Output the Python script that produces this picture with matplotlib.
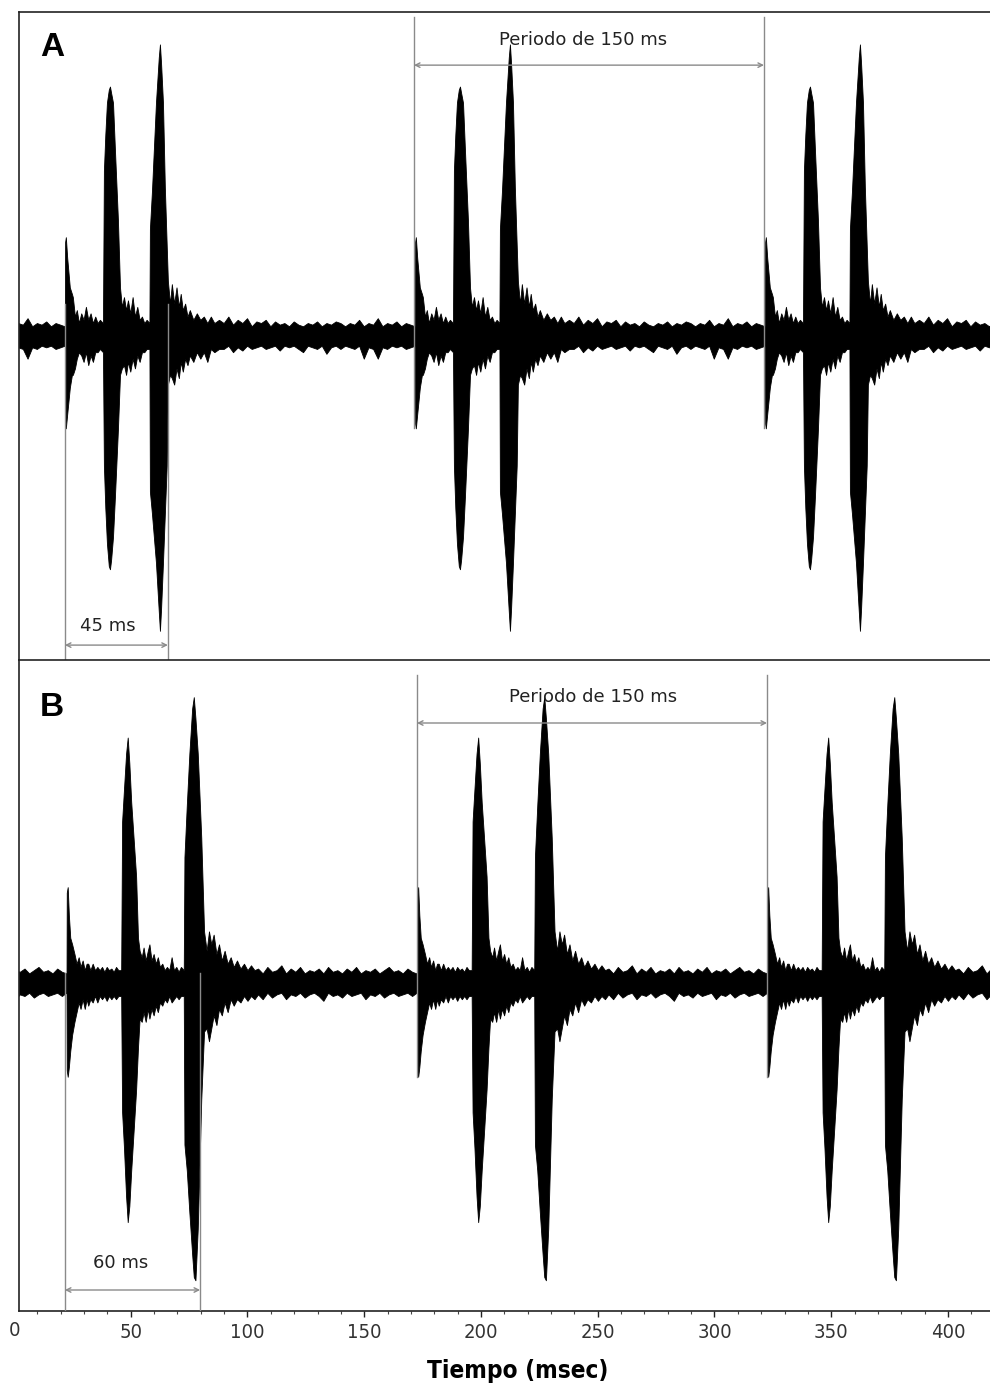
import matplotlib.pyplot as plt
import numpy as np

# envelope of one 150 ms period, time in ms after the onset of the first pulse
# amplitudes are relative (1.0 = top of the panel)

# panel A: 45 ms between first and third pulse
a_t = [0.0, 0.1, 0.4, 1.0, 2.1, 3.0, 3.4, 4.3, 5.1, 6.0, 7.0, 8.0, 9.0, 10.0, 11.0, 12.0, 13.0, 14.0, 15.0, 16.3,
       16.7, 17.3, 18.0, 18.8, 19.3, 19.8, 20.6, 21.4, 22.7, 23.6, 24.4,
       25.3, 26.2, 27.0, 28.0, 29.0, 30.0, 31.0, 32.0, 33.0, 34.0, 35.0, 36.2,
       36.4, 37.3, 39.0, 40.2, 40.7, 41.2, 42.0, 42.8, 43.6, 44.1, 45.0,
       45.8, 46.8, 47.8, 48.8, 49.6, 50.5, 51.5, 52.5, 53.5, 55.0, 56.5, 58.0, 59.5, 61.0, 62.5, 64.0, 66.0,
       68, 70, 72, 74, 76, 78, 80, 82, 84, 86,
       88, 90, 92, 94, 96, 98, 100, 102, 104, 106,
       108, 110, 112, 114, 116, 118, 120, 122, 124, 126,
       128, 130, 132, 134, 136, 138, 140, 142, 144, 146,
       148, 149.9]
a_up = [0.03, 0.29, 0.305, 0.24, 0.15, 0.13, 0.12, 0.06, 0.08, 0.04, 0.07, 0.05, 0.09, 0.05, 0.07, 0.04, 0.06, 0.04, 0.05, 0.04,
        0.51, 0.62, 0.72, 0.76, 0.77, 0.75, 0.72, 0.58, 0.36, 0.15, 0.09,
        0.12, 0.08, 0.11, 0.07, 0.12, 0.06, 0.09, 0.05, 0.06, 0.04, 0.05, 0.04,
        0.33, 0.45, 0.72, 0.86, 0.90, 0.84, 0.72, 0.46, 0.28, 0.17, 0.10,
        0.16, 0.10, 0.15, 0.09, 0.13, 0.08, 0.10, 0.06, 0.08, 0.05, 0.07, 0.05, 0.06, 0.04, 0.06, 0.04, 0.05,
        0.04, 0.06, 0.035, 0.05, 0.04, 0.055, 0.03, 0.045, 0.04, 0.05,
        0.03, 0.045, 0.035, 0.04, 0.03, 0.045, 0.035, 0.03, 0.04, 0.035,
        0.045, 0.03, 0.04, 0.035, 0.045, 0.04, 0.03, 0.04, 0.035, 0.05,
        0.03, 0.04, 0.035, 0.055, 0.03, 0.04, 0.035, 0.045, 0.03, 0.04,
        0.035, 0.03]
a_lo = [-0.03, -0.27, -0.285, -0.24, -0.16, -0.12, -0.12, -0.10, -0.07, -0.05, -0.06, -0.08, -0.05, -0.09, -0.06, -0.08, -0.05, -0.05, -0.04, -0.05,
        -0.40, -0.53, -0.64, -0.71, -0.72, -0.69, -0.62, -0.50, -0.29, -0.12, -0.10,
        -0.09, -0.12, -0.08, -0.11, -0.07, -0.10, -0.06, -0.08, -0.05, -0.05, -0.04, -0.04,
        -0.48, -0.55, -0.70, -0.85, -0.91, -0.84, -0.70, -0.55, -0.40, -0.15, -0.12,
        -0.13, -0.15, -0.10, -0.13, -0.08, -0.11, -0.07, -0.09, -0.06, -0.08, -0.05, -0.07, -0.05, -0.08, -0.04, -0.05, -0.04,
        -0.04, -0.03, -0.05, -0.035, -0.045, -0.03, -0.04, -0.035, -0.03, -0.04,
        -0.035, -0.03, -0.045, -0.03, -0.035, -0.03, -0.04, -0.05, -0.03, -0.035,
        -0.04, -0.03, -0.055, -0.035, -0.03, -0.04, -0.03, -0.035, -0.04, -0.03,
        -0.07, -0.035, -0.04, -0.07, -0.035, -0.04, -0.03, -0.035, -0.03, -0.04,
        -0.035, -0.03]
a_onsets = [-128.2, 21.8, 171.7, 321.6]

# panel B: 60 ms between first and third pulse
b_t = [0.0, 0.1, 0.5, 1.0, 1.6, 2.4, 3.4, 4.3, 5.2, 6.0, 6.9, 7.8, 8.6, 9.3, 10.2, 11.2, 12.2, 13.2, 14.2, 15.2,
       16.2, 17.2, 18.2, 19.2, 20.2, 21.2, 22.2, 23.4,
       23.8, 24.6, 25.5, 26.2, 26.9, 27.7, 28.8, 29.8, 30.6, 31.3,
       32.2, 33.0, 33.9, 34.8, 35.5, 36.4, 37.3, 38.2, 39.1, 40.0, 41.0, 42.0, 43.0, 44.0, 45.0, 46.0, 47.0, 48.0, 49.0, 50.2,
       50.5, 51.5, 52.6, 53.8, 54.5, 55.2, 56.2, 57.7, 58.9, 60.0,
       61.0, 62.0, 63.0, 64.2, 65.3, 66.5, 67.7, 69.0, 70.3, 71.6, 73.0, 74.5, 76.0, 77.5, 79.0, 80.5,
       82, 84, 86, 88, 90, 92, 94, 96, 98, 100,
       102, 104, 106, 108, 110, 112, 114, 116, 118, 120,
       122, 124, 126, 128, 130, 132, 134, 136, 138, 140,
       142, 144, 146, 148, 149.9]
b_up = [0.03, 0.28, 0.297, 0.21, 0.14, 0.12, 0.09, 0.06, 0.08, 0.05, 0.07, 0.04, 0.06, 0.06, 0.04, 0.06, 0.04, 0.05, 0.04, 0.05,
        0.035, 0.05, 0.04, 0.045, 0.035, 0.05, 0.04, 0.04,
        0.50, 0.60, 0.71, 0.76, 0.68, 0.56, 0.44, 0.33, 0.14, 0.10,
        0.08, 0.11, 0.07, 0.10, 0.12, 0.07, 0.09, 0.06, 0.08, 0.05, 0.06, 0.04, 0.05, 0.04, 0.08, 0.04, 0.05, 0.035, 0.05, 0.04,
        0.39, 0.55, 0.71, 0.85, 0.885, 0.82, 0.71, 0.45, 0.16, 0.10,
        0.16, 0.12, 0.15, 0.09, 0.12, 0.07, 0.10, 0.06, 0.08, 0.05, 0.07, 0.045, 0.06, 0.04, 0.055, 0.04,
        0.045, 0.03, 0.05, 0.035, 0.04, 0.055, 0.03, 0.045, 0.035, 0.05,
        0.03, 0.04, 0.035, 0.045, 0.03, 0.05, 0.035, 0.04, 0.03, 0.045,
        0.035, 0.05, 0.03, 0.04, 0.035, 0.045, 0.03, 0.04, 0.05, 0.035,
        0.04, 0.03, 0.045, 0.035, 0.03]
b_lo = [-0.03, -0.27, -0.29, -0.26, -0.21, -0.16, -0.12, -0.09, -0.06, -0.08, -0.05, -0.08, -0.05, -0.07, -0.05, -0.06, -0.04, -0.06, -0.04, -0.05,
        -0.04, -0.055, -0.04, -0.05, -0.04, -0.05, -0.04, -0.04,
        -0.40, -0.51, -0.66, -0.74, -0.69, -0.58, -0.45, -0.33, -0.20, -0.11,
        -0.12, -0.09, -0.12, -0.08, -0.11, -0.08, -0.10, -0.07, -0.09, -0.06, -0.07, -0.05, -0.06, -0.04, -0.06, -0.05, -0.04, -0.05, -0.04, -0.04,
        -0.50, -0.58, -0.71, -0.84, -0.91, -0.92, -0.76, -0.36, -0.15, -0.14,
        -0.18, -0.14, -0.10, -0.13, -0.08, -0.10, -0.06, -0.09, -0.05, -0.07, -0.05, -0.06, -0.04, -0.055, -0.04, -0.05,
        -0.035, -0.05, -0.03, -0.045, -0.035, -0.03, -0.05, -0.035, -0.04, -0.03,
        -0.045, -0.035, -0.03, -0.04, -0.055, -0.03, -0.04, -0.035, -0.045, -0.03,
        -0.04, -0.035, -0.03, -0.05, -0.035, -0.04, -0.03, -0.045, -0.035, -0.03,
        -0.04, -0.035, -0.03, -0.04, -0.03]
b_onsets = [-127.5, 22.5, 172.6, 322.5]

x_ticks = [50, 100, 150, 200, 250, 300, 350, 400]
x_minor = list(range(10, 420, 10))

assert len(a_t) == len(a_up) == len(a_lo)
assert len(b_t) == len(b_up) == len(b_lo)

GREY = '#8a8a8a'
NARROW = dict(family=['DejaVu Sans'], fontstretch='condensed')


def draw_trace(ax, t, up, lo, onsets):
    t = np.array(t)
    for t0 in onsets:
        ax.fill_between(t + t0, lo, up, facecolor='black', edgecolor='black', linewidth=0.6, zorder=2)


def span_arrow(ax, x0, x1, y, y_top, y_bot, label, label_x, label_y):
    # two grey guide lines and a double headed arrow between them
    for x in (x0, x1):
        ax.plot([x, x], [y_top, y_bot], color=GREY, lw=1.0, zorder=3)
    ax.annotate('', xy=(x1, y), xytext=(x0, y),
                arrowprops=dict(arrowstyle='<->', color=GREY, lw=1.0,
                                shrinkA=0, shrinkB=0, mutation_scale=8), zorder=3)
    ax.text(label_x, label_y, label, ha='center', va='center', fontsize=13, color='#222222', zorder=4)


fig = plt.figure(figsize=(9.9, 13.89), dpi=100)
ax_a = fig.add_axes([19 / 990, 729 / 1389, 971 / 990, 648 / 1389])
ax_b = fig.add_axes([19 / 990, 78 / 1389, 971 / 990, 651 / 1389])

draw_trace(ax_a, a_t, a_up, a_lo, a_onsets)
draw_trace(ax_b, b_t, b_up, b_lo, b_onsets)

ax_a.set_ylim(-1, 1)
ax_b.set_ylim(-1.015, 1)
for ax in (ax_a, ax_b):
    ax.set_xlim(2.14, 418)
    ax.spines['right'].set_visible(False)
    for s in ('left', 'top', 'bottom'):
        ax.spines[s].set_linewidth(1.2)
        ax.spines[s].set_color('#222222')
    ax.set_yticks([])

ax_a.spines['bottom'].set_visible(False)
ax_a.set_xticks([])

ax_b.set_xticks(x_ticks)
ax_b.set_xticks(x_minor, minor=True)
ax_b.tick_params(axis='x', which='major', direction='out', length=4, width=1, color='#222222',
                 pad=4.5, labelsize=14.5, labelcolor='#333333')
ax_b.tick_params(axis='x', which='minor', direction='out', length=2.5, width=0.8, color='#444444')
ax_b.set_xticklabels([str(v) for v in x_ticks], **NARROW)
ax_b.annotate('0', xy=(0, 0), xycoords=('data', 'axes fraction'), xytext=(0, -7.4),
              textcoords='offset points', ha='center', va='top', fontsize=14.5,
              color='#333333', annotation_clip=False, **NARROW)

# period markers
span_arrow(ax_a, 171.3, 321.2, 0.836, 0.985, -0.284, 'Periodo de 150 ms', 243.7, 0.914)
span_arrow(ax_b, 172.6, 322.5, 0.805, 0.954, -0.29, 'Periodo de 150 ms', 248.0, 0.885)

# interval between first and last pulse
span_arrow(ax_a, 21.8, 65.9, -0.954, 0.1, -1.0, '45 ms', 40.0, -0.895)
span_arrow(ax_b, 21.8, 79.7, -0.95, 0.03, -1.015, '60 ms', 45.6, -0.867)

fig.text(52 / 990, 1 - 47 / 1389, 'A', ha='center', va='center', fontsize=24, fontweight='bold',
         family=['Liberation Sans', 'DejaVu Sans'])
fig.text(52 / 990, 1 - 707 / 1389, 'B', ha='center', va='center', fontsize=24, fontweight='bold',
         family=['Liberation Sans', 'DejaVu Sans'])
fig.text(518 / 990, 1 - 1371 / 1389, 'Tiempo (msec)', ha='center', va='center', fontsize=17.5,
         fontweight='bold', **NARROW)

fig.savefig('out.png', dpi=100)
